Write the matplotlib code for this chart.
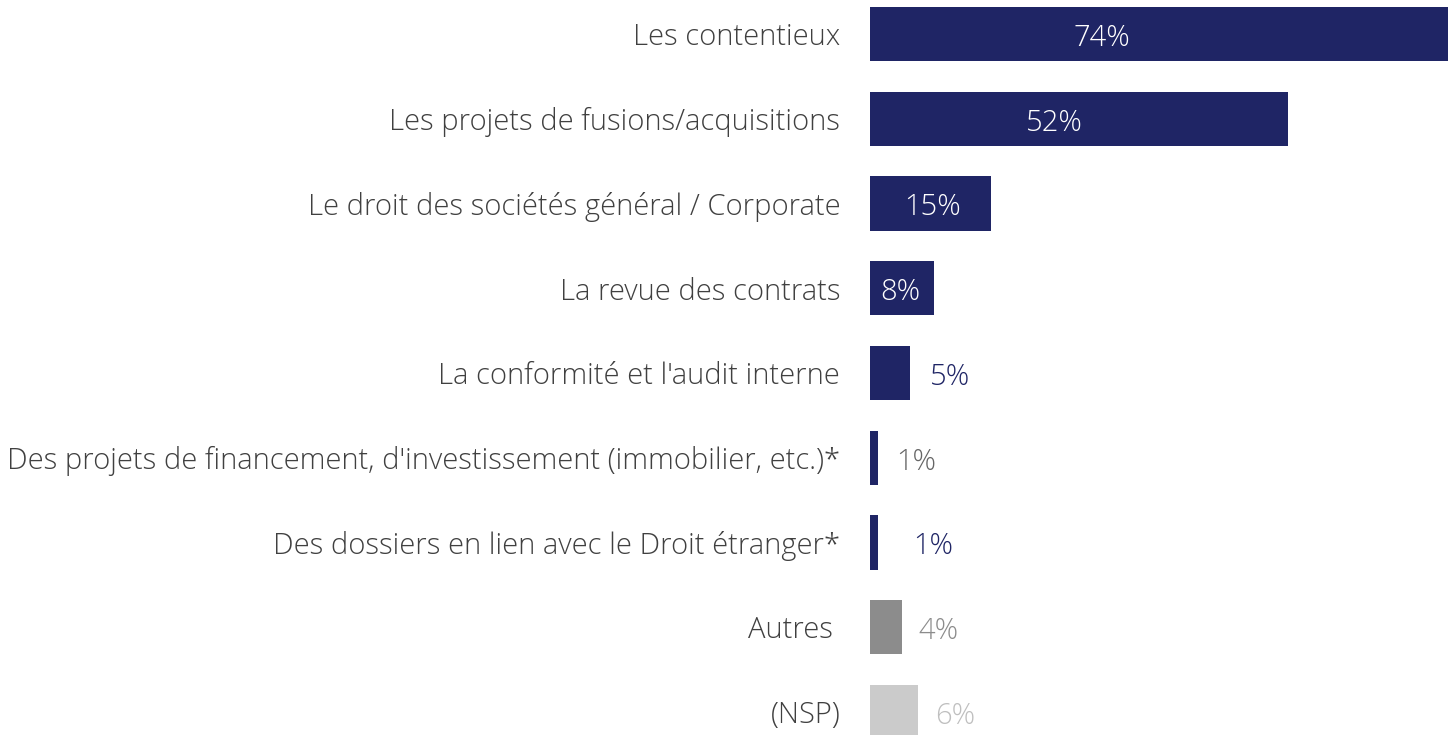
import matplotlib
matplotlib.use('Agg')
import matplotlib.pyplot as plt

#data
categories = ['Les contentieux',
              'Les projets de fusions/acquisitions',
              'Le droit des sociétés général / Corporate',
              'La revue des contrats',
              "La conformité et l'audit interne",
              "Des projets de financement, d'investissement (immobilier, etc.)*",
              'Des dossiers en lien avec le Droit étranger*',
              'Autres ',
              '(NSP)']
values = [74, 52, 15, 8, 5, 1, 1, 4, 6]

#styles
navy = '#1F2565'
bar_colors = [navy] * 7 + ['#8C8C8C', '#CBCBCB']
label_colors = ['white'] * 4 + [navy, '#666666', navy, '#8C8C8C', '#BFBFBF']
inside = [True] * 4 + [False] * 5
# where the inside labels sit, as a share of the bar
inside_frac = [0.39, 0.44, 0.52, 0.47]
# gap (points) for outside labels
outside_gap = [14, 13, 25, 12, 12]

plt.rcParams['font.family'] = ['Open Sans', 'DejaVu Sans']

fig = plt.figure(figsize=(14.48, 7.35), dpi=100)
ax = fig.add_axes([870 / 1448, 0, 1 - 870 / 1448, 1])

y = list(range(len(categories)))
ax.barh(y, values, height=0.64, color=bar_colors)
ax.set_xlim(0, (1448 - 870) / 8.04)
ax.set_ylim(8 + 23 / 84.75, -34 / 84.75)

ax.set_yticks(y)
ax.set_yticklabels(categories, fontsize=21, color='#404040', fontweight='light')
ax.tick_params(axis='y', length=0, pad=21.5)
ax.set_xticks([])
for s in ax.spines.values():
    s.set_visible(False)

#value labels
j = 0
for i, v in enumerate(values):
    if inside[i]:
        ax.text(v * inside_frac[i], i + 0.05, f'{v}%', ha='center', va='center',
                fontsize=21, color=label_colors[i], fontweight='light')
    else:
        ax.annotate(f'{v}%', (v, i + 0.05), xytext=(outside_gap[j], 0),
                    textcoords='offset points', ha='left', va='center',
                    fontsize=21, color=label_colors[i], fontweight='light')
        j += 1

fig.savefig('out.png', dpi=100)
